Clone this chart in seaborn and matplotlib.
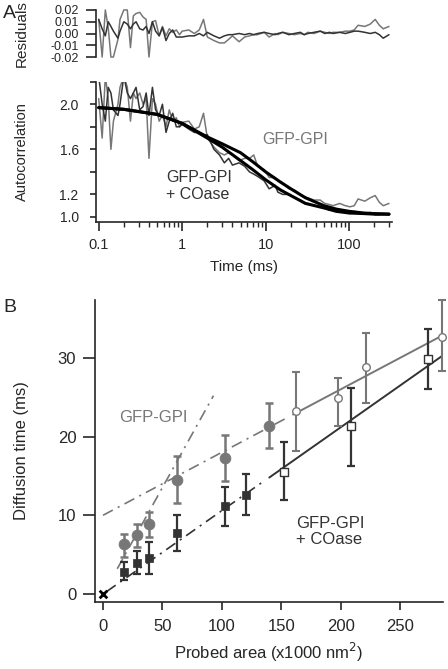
import matplotlib
matplotlib.use("Agg")
import matplotlib.pyplot as plt
import seaborn as sns
import numpy as np

# ---- Panel A data ----
time_ms = [0.10, 0.11, 0.12, 0.13, 0.14, 0.15, 0.17, 0.18, 0.20, 0.22, 0.24, 0.26,
           0.28, 0.31, 0.34, 0.37, 0.40, 0.44, 0.48, 0.53, 0.58, 0.64, 0.70, 0.77,
           0.85, 0.93, 1.0, 1.2, 1.4, 1.6, 1.8, 2.0, 2.4, 2.8, 3.2, 3.6, 4.0, 4.8,
           5.6, 6.4, 7.2, 8.0, 9.6, 11, 13, 14, 16, 19, 22, 26, 29, 32, 38, 45,
           51, 58, 64, 77, 90, 102, 115, 128, 154, 179, 205, 230, 256, 300]

resid_gpi = [0.012, -0.020, 0.020, 0.005, -0.020, -0.020, -0.005, 0.012, 0.020, 0.020,
             -0.012, 0.015, 0.017, 0.018, 0.014, 0.012, -0.020, 0.010, 0.011, -0.002,
             0.006, -0.002, 0.004, 0.001, 0.003, -0.001, 0.002, 0.003, 0.000, 0.003,
             0.012, -0.003, -0.006, -0.008, -0.008, -0.005, -0.002, -0.007, -0.003, -0.002,
             -0.001, -0.001, 0.001, -0.003, 0.000, -0.001, 0.001, 0.000, -0.001, 0.000,
             -0.001, 0.001, 0.000, 0.002, 0.001, 0.000, 0.001, 0.001, 0.002, 0.002,
             0.003, 0.007, 0.006, 0.008, 0.012, 0.007, 0.004, 0.006]

resid_coase = [0.012, 0.004, -0.002, 0.010, 0.006, 0.002, -0.004, 0.002, 0.010, 0.008,
               0.004, 0.008, 0.010, 0.004, 0.003, 0.006, 0.000, 0.010, 0.002, -0.002,
               0.005, -0.006, 0.000, 0.003, -0.003, -0.003, -0.003, -0.002, -0.002, 0.000,
               -0.002, 0.001, -0.002, -0.004, -0.002, -0.001, -0.001, 0.000, -0.001, 0.000,
               -0.001, 0.000, 0.001, 0.000, -0.001, 0.000, 0.001, -0.001, 0.000, 0.001,
               -0.001, 0.000, 0.001, 0.002, 0.000, 0.001, 0.000, 0.001, 0.000, 0.001,
               0.002, 0.002, 0.001, 0.000, 0.001, -0.001, -0.004, -0.001]

acf_gpi = [2.05, 1.70, 2.25, 2.05, 1.60, 1.85, 2.00, 2.15, 2.25, 2.15, 1.85, 2.10,
           2.05, 2.10, 2.00, 2.05, 1.52, 2.05, 2.00, 1.85, 1.90, 1.80, 1.95, 1.85,
           1.88, 1.80, 1.84, 1.85, 1.78, 1.80, 1.92, 1.70, 1.62, 1.57, 1.55, 1.57,
           1.55, 1.50, 1.52, 1.52, 1.55, 1.45, 1.42, 1.35, 1.35, 1.32, 1.30, 1.25,
           1.24, 1.20, 1.18, 1.17, 1.15, 1.15, 1.12, 1.11, 1.10, 1.12, 1.10, 1.09,
           1.10, 1.16, 1.14, 1.17, 1.19, 1.13, 1.10, 1.12]

acf_coase = [2.25, 2.00, 1.85, 2.15, 2.10, 1.95, 1.90, 2.00, 2.25, 2.10, 2.05, 2.10,
             2.15, 1.95, 1.98, 2.10, 1.90, 2.15, 1.95, 1.90, 2.00, 1.75, 1.85, 1.92,
             1.80, 1.80, 1.82, 1.78, 1.75, 1.75, 1.72, 1.73, 1.60, 1.55, 1.48, 1.52,
             1.46, 1.48, 1.45, 1.40, 1.38, 1.36, 1.32, 1.25, 1.28, 1.22, 1.20, 1.20,
             1.17, 1.15, 1.12, 1.12, 1.10, 1.09, 1.08, 1.06, 1.07, 1.05, 1.04, 1.03,
             1.05, 1.04, 1.03, 1.04, 1.02, 1.02, 1.03, 1.02]

fit_time = [0.1, 0.2, 0.5, 1, 2, 3, 5, 7, 10, 15, 20, 30, 50, 70, 100, 150, 200, 300]
fit_gpi = [1.97, 1.955, 1.91, 1.83, 1.71, 1.65, 1.57, 1.49, 1.40, 1.31, 1.25, 1.17,
           1.10, 1.07, 1.05, 1.035, 1.03, 1.025]
fit_coase = [1.97, 1.955, 1.91, 1.83, 1.70, 1.62, 1.50, 1.42, 1.33, 1.24, 1.19, 1.12,
             1.08, 1.05, 1.035, 1.03, 1.025, 1.025]

# ---- Panel B data ----
gpi_fill_x = [18, 28.6, 39, 62.5, 102.7, 139.7]
gpi_fill_y = [6.3, 7.5, 8.85, 14.5, 17.3, 21.4]
gpi_fill_hi = [7.6, 8.9, 10.4, 17.5, 20.2, 24.3]
gpi_fill_lo = [4.7, 6.0, 7.3, 11.6, 14.4, 18.5]

gpi_open_x = [162.7, 197.8, 221.4, 285]
gpi_open_y = [23.2, 24.9, 28.8, 32.7]
gpi_open_hi = [28.2, 27.5, 33.2, 37.3]
gpi_open_lo = [18.2, 21.3, 24.3, 28.3]

coase_fill_x = [18, 28.6, 38.7, 62.5, 102.7, 120]
coase_fill_y = [2.8, 3.9, 4.6, 7.7, 11.2, 12.6]
coase_fill_hi = [4.0, 5.4, 6.6, 10.0, 13.6, 15.3]
coase_fill_lo = [1.8, 2.5, 2.6, 5.5, 8.6, 10.0]

coase_open_x = [152.6, 208.5, 273.3]
coase_open_y = [15.5, 21.3, 29.8]
coase_open_hi = [19.3, 26.2, 33.7]
coase_open_lo = [11.9, 16.3, 26.0]

# fitted lines (end points)
gpi_ext_x, gpi_ext_y = [0, 155], [10.0, 22.4]
gpi_lin_x, gpi_lin_y = [160, 285], [22.8, 32.8]
gpi_steep_x, gpi_steep_y = [12, 93], [3.2, 25.2]
coase_ext_x, coase_ext_y = [3, 135], [0.3, 14.3]
coase_lin_x, coase_lin_y = [140, 285], [14.8, 30.2]

GRAY = "#777777"
DARK = "#333333"

sns.set_style("ticks")
plt.rcParams['font.family'] = ['Liberation Sans', 'DejaVu Sans']
plt.rcParams['lines.scale_dashes'] = False

W, H = 448, 669
fig = plt.figure(figsize=(W / 100, H / 100), dpi=100)


def px_axes(l, t, r, b):
    return fig.add_axes([l / W, 1 - b / H, (r - l) / W, (b - t) / H])


dashdot = (0, (8, 4, 1.5, 4))

# ---- Residuals ----
ax_r = px_axes(96, 8.8, 392, 58.2)
sns.lineplot(x=time_ms, y=resid_gpi, ax=ax_r, color=GRAY, lw=1.1, estimator=None, sort=False)
sns.lineplot(x=time_ms, y=resid_coase, ax=ax_r, color=DARK, lw=1.1, estimator=None, sort=False)
ax_r.set_xscale("log")
ax_r.set_xlim(0.0928, 326)
ax_r.set_ylim(-0.021, 0.021)
ax_r.set_yticks([0.02, 0.01, 0.0, -0.01, -0.02],
                labels=["0.02", "0.01", "0.00", "-0.01", "-0.02"])
ax_r.spines[['top', 'right', 'bottom']].set_visible(False)
ax_r.spines['left'].set_bounds(-0.02, 0.02)
ax_r.spines['left'].set_linewidth(1.2)
ax_r.set_xticks([])
ax_r.xaxis.set_minor_locator(matplotlib.ticker.NullLocator())
ax_r.tick_params(axis='y', labelsize=9, length=7, width=1.2, pad=5)
ax_r.set_ylabel("Residuals", fontsize=11)
ax_r.yaxis.set_label_coords(-0.226, 0.5)
ax_r.patch.set_alpha(0)

# ---- Autocorrelation ----
ax_a = px_axes(96, 81.7, 392, 221.7)
sns.lineplot(x=time_ms, y=acf_gpi, ax=ax_a, color=GRAY, lw=1.1, estimator=None, sort=False)
sns.lineplot(x=time_ms, y=acf_coase, ax=ax_a, color=DARK, lw=1.1, estimator=None, sort=False)
sns.lineplot(x=fit_time, y=fit_gpi, ax=ax_a, color="black", lw=2.2, estimator=None, sort=False)
sns.lineplot(x=fit_time, y=fit_coase, ax=ax_a, color="black", lw=2.2, estimator=None, sort=False)
ax_a.set_xscale("log")
ax_a.set_xlim(0.0928, 326)
ax_a.set_ylim(0.958, 2.2)
ax_a.set_xticks([0.1, 1, 10, 100], labels=["0.1", "1", "10", "100"])
ax_a.set_yticks([1.0, 1.2, 1.4, 1.6, 1.8, 2.0, 2.2],
                labels=["1.0", "1.2", "", "1.6", "", "2.0", ""])
ax_a.spines[['top', 'right']].set_visible(False)
for s in ['left', 'bottom']:
    ax_a.spines[s].set_linewidth(1.2)
ax_a.tick_params(axis='y', which='major', labelsize=10, length=4.5, width=1.2, pad=8)
ax_a.tick_params(axis='x', which='major', labelsize=10.5, length=6.5, width=1.2, pad=5)
ax_a.tick_params(axis='x', which='minor', length=3.6, width=1.0)
ax_a.set_xlabel("Time (ms)", fontsize=11, labelpad=6)
ax_a.set_ylabel("Autocorrelation", fontsize=10.5)
ax_a.yaxis.set_label_coords(-0.226, 0.5)
ax_a.text(22.4, 1.683, "GFP-GPI", color=GRAY, fontsize=11.5, ha='center', va='center')
ax_a.text(0.64, 1.275, "GFP-GPI\n+ COase", color=DARK, fontsize=11.5, ha='left',
          va='center', linespacing=1.1)

# ---- Panel B ----
ax_b = px_axes(95, 300, 443, 602)
sns.lineplot(x=gpi_ext_x, y=gpi_ext_y, ax=ax_b, color=GRAY, lw=1.2, linestyle=dashdot)
sns.lineplot(x=gpi_lin_x, y=gpi_lin_y, ax=ax_b, color=GRAY, lw=1.4)
sns.lineplot(x=gpi_steep_x, y=gpi_steep_y, ax=ax_b, color=GRAY, lw=1.2, linestyle=dashdot)
sns.lineplot(x=coase_ext_x, y=coase_ext_y, ax=ax_b, color=DARK, lw=1.2, linestyle=dashdot)
sns.lineplot(x=coase_lin_x, y=coase_lin_y, ax=ax_b, color=DARK, lw=1.4)


def err(x, y, lo, hi, color, lw):
    y = np.array(y)
    ax_b.errorbar(x, y, yerr=[y - np.array(lo), np.array(hi) - y], fmt='none',
                  ecolor=color, elinewidth=lw, capsize=3.2, capthick=lw, clip_on=False,
                  zorder=2)


err(gpi_fill_x, gpi_fill_y, gpi_fill_lo, gpi_fill_hi, GRAY, 1.8)
err(gpi_open_x, gpi_open_y, gpi_open_lo, gpi_open_hi, GRAY, 1.5)
err(coase_fill_x, coase_fill_y, coase_fill_lo, coase_fill_hi, DARK, 1.6)
err(coase_open_x, coase_open_y, coase_open_lo, coase_open_hi, DARK, 1.6)

sns.scatterplot(x=gpi_fill_x, y=gpi_fill_y, ax=ax_b, marker='o', s=60, color=GRAY,
                edgecolor=GRAY, zorder=3, clip_on=False)
sns.scatterplot(x=gpi_open_x, y=gpi_open_y, ax=ax_b, marker='o', s=30, color='white',
                edgecolor=GRAY, linewidth=1.0, zorder=3, clip_on=False)
sns.scatterplot(x=coase_fill_x, y=coase_fill_y, ax=ax_b, marker='s', s=40, color=DARK,
                edgecolor=DARK, zorder=3, clip_on=False)
sns.scatterplot(x=coase_open_x, y=coase_open_y, ax=ax_b, marker='s', s=28, color='white',
                edgecolor=DARK, linewidth=1.0, zorder=3, clip_on=False)
sns.scatterplot(x=[0], y=[0], ax=ax_b, marker='x', s=30, color='black', linewidth=2.0,
                zorder=4, clip_on=False)

ax_b.set_xlim(-6.73, 286.2)
ax_b.set_ylim(-1.02, 37.36)
ax_b.set_xticks([0, 50, 100, 150, 200, 250])
ax_b.set_yticks([0, 10, 20, 30])
ax_b.spines[['top', 'right']].set_visible(False)
for s in ['left', 'bottom']:
    ax_b.spines[s].set_linewidth(1.2)
ax_b.tick_params(axis='y', labelsize=12, length=8.5, width=1.2, pad=5)
ax_b.tick_params(axis='x', labelsize=12, length=6, width=1.2, pad=6)
ax_b.set_xlabel("Probed area (x1000 nm$^2$)", fontsize=12, labelpad=5)
ax_b.set_ylabel("Diffusion time (ms)", fontsize=12)
ax_b.yaxis.set_label_coords(-0.19, 0.5)
ax_b.text(13.5, 22.4, "GFP-GPI", color=GRAY, fontsize=12, ha='left', va='center')
ax_b.text(162.5, 7.96, "GFP-GPI\n+ COase", color=DARK, fontsize=12, ha='left',
          va='center', linespacing=1.05)

fig.text(3 / W, 1 - 13 / H, "A", fontsize=14, ha='left', va='center')
fig.text(3 / W, 1 - 307 / H, "B", fontsize=14, ha='left', va='center')

fig.savefig("out.png", dpi=100)
